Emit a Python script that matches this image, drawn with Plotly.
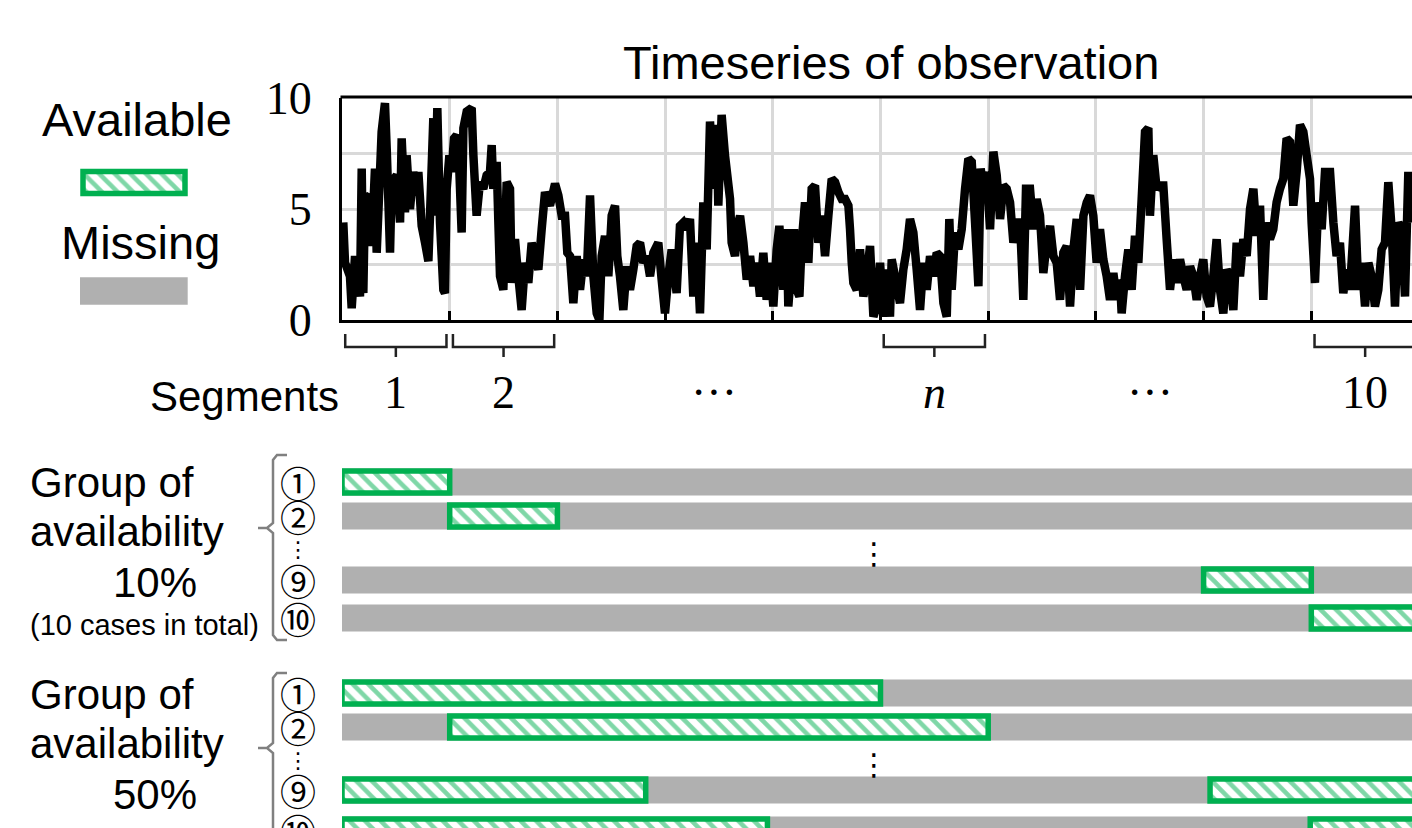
import plotly.graph_objects as go

W, H = 1412, 828

# ---------------- data ----------------
# observation time (segment width = 100 time units) and value
obs_t = [1.2, 2.8, 7.4, 9.0, 12.1, 16.7, 18.3, 19.8, 21.4, 26.0,
         27.5, 30.6, 32.2, 35.3, 36.8, 39.9, 41.5, 44.6, 46.1, 50.8,
         53.9, 55.4, 58.5, 60.0, 63.1, 66.2, 69.3, 70.9, 74.0, 77.1,
         80.2, 81.7, 84.8, 86.3, 88.5, 91.0, 94.1, 95.6, 97.2, 99.7,
         101.8, 104.0, 106.5, 109.0, 111.1, 112.7, 115.8, 120.4, 122.0, 125.0,
         128.1, 131.2, 134.3, 137.4, 139.0, 140.5, 143.6, 145.2, 146.7, 149.8,
         152.9, 156.0, 157.5, 160.6, 162.2, 166.8, 169.9, 173.0, 176.1, 179.2,
         182.3, 185.4, 188.5, 193.1, 197.8, 200.9, 204.0, 207.1, 209.2, 211.7,
         214.8, 217.9, 221.0, 224.1, 227.2, 230.3, 233.4, 236.5, 239.0, 241.1,
         244.2, 247.3, 250.4, 253.5, 255.6, 258.1, 261.2, 264.3, 267.4, 270.5,
         273.6, 276.7, 279.8, 282.9, 286.0, 289.1, 293.7, 296.8, 299.9, 303.0,
         306.1, 310.7, 313.8, 316.9, 320.0, 323.1, 326.2, 329.3, 332.4, 335.5,
         338.6, 341.7, 344.8, 347.9, 349.4, 352.5, 355.6, 360.3,
         361.8, 364.9, 368.0, 369.6, 372.7, 375.8, 378.9, 382.0, 385.0, 388.1,
         391.2, 394.3, 397.4, 400.5, 403.6, 406.1, 409.8, 412.9, 414.4, 417.5,
         419.7, 422.2, 424.7, 426.8, 429.9, 433.0, 436.1, 439.2, 442.3, 445.4,
         448.5, 451.6, 454.7, 457.8, 460.9, 464.0, 467.1, 470.2, 471.7, 473.3,
         474.8, 477.9, 481.0, 484.1, 487.2, 490.3, 493.4, 496.5, 499.6, 502.7,
         505.8, 508.8, 510.4, 513.5, 518.1, 521.2, 524.3, 527.4, 530.5, 533.6,
         536.7, 539.8, 542.9, 546.0, 549.1, 552.2, 555.3, 558.4, 561.5, 563.9,
         566.1, 569.2, 572.3, 575.4, 578.5, 581.6, 584.7, 587.8, 590.9, 593.0,
         595.5, 598.6, 601.7, 604.8, 607.9, 611.0, 614.1, 617.2, 620.3, 623.4,
         626.5, 629.6, 632.6, 635.1, 638.8, 641.9, 645.0, 648.1, 651.2, 654.3,
         657.4, 660.5, 663.6, 666.7, 669.8, 672.9, 676.0, 679.1, 682.2, 685.3,
         688.4, 691.5, 694.5, 697.6, 700.7, 703.8, 706.9, 710.0, 713.1, 716.2,
         719.3, 722.4,
         723.9, 727.0, 730.1, 733.2, 736.3, 739.4, 742.5, 745.6, 748.7, 750.2,
         753.3, 756.4, 759.5, 762.6, 765.7, 768.8, 771.9, 775.0, 778.1, 781.2,
         784.3, 787.4, 790.5, 793.6, 796.7, 799.7, 802.8, 805.9, 809.0, 812.1,
         815.2, 818.3, 821.4, 824.5, 827.6, 830.7, 833.8, 836.9, 840.0, 843.1,
         846.2, 849.3, 852.4, 855.4, 858.5, 861.6, 864.7, 867.8, 870.9, 874.0,
         877.1, 880.2, 883.3, 886.4, 889.5, 892.6, 895.7, 898.8, 900.3, 903.4,
         906.5, 909.6, 912.7, 917.4, 920.5, 923.5, 926.6, 929.7, 932.8, 935.9,
         940.6, 943.7, 946.8, 949.9, 953.0, 956.0, 959.1, 962.2, 965.3, 968.4,
         971.5, 974.6, 977.7, 980.8, 983.9, 987.0, 990.1, 993.2]

obs_v = [4.39, 2.58, 1.97, 0.53, 2.88, 1.06, 6.82, 1.21, 5.61, 5.45,
         3.33, 6.82, 3.03, 6.67, 8.48, 9.77, 7.73, 3.03, 6.21, 6.52,
         4.39, 8.18, 4.85, 7.42, 5.00, 6.67, 5.61, 6.67, 4.24, 3.48,
         2.65, 4.70, 9.09, 4.70, 9.55, 4.39, 1.36, 1.21, 5.91, 7.42,
         6.67, 8.18, 8.33, 6.67, 3.94, 8.64, 9.39, 9.55, 7.42, 4.70,
         6.21, 5.91, 6.52, 6.67, 7.88, 5.91, 7.12, 4.39, 1.97, 1.36,
         6.21, 5.91, 1.67, 3.64, 2.73, 0.45, 2.58, 1.67, 3.48, 2.88,
         2.27, 4.09, 5.76, 5.15, 6.14, 5.61, 4.70, 4.70, 3.03, 2.88,
         0.76, 2.88, 1.36, 2.73, 1.97, 5.61, 1.97, 0.30, 0.00, 2.88,
         3.79, 1.97, 4.70, 5.15, 2.88, 1.97, 0.45, 2.42, 1.36, 2.27,
         3.33, 3.48, 2.58, 2.88, 1.97, 3.03, 3.48, 1.82, 0.30, 1.97,
         3.18, 1.21, 4.24, 4.39, 4.09, 4.55, 1.06, 3.48, 0.30, 5.30,
         3.18, 8.94, 5.91, 8.79, 5.15, 9.24, 7.42, 5.45,
         3.48, 2.88, 4.39, 4.70, 3.48, 1.82, 2.88, 1.52, 2.58, 1.06,
         3.03, 0.91, 2.58, 0.61, 3.18, 4.24, 1.36, 4.09, 0.61, 2.58,
         4.09, 1.36, 1.06, 3.48, 5.30, 2.58, 5.91, 6.06, 3.48, 4.70,
         2.88, 4.70, 6.36, 6.21, 5.76, 5.45, 5.45, 5.15, 4.09, 2.58,
         1.67, 1.36, 3.18, 1.06, 1.97, 3.33, 0.15, 0.61, 2.58, 0.15,
         2.27, 0.15, 2.73, 1.97, 0.76, 2.27, 3.18, 4.55, 3.94, 2.27,
         0.45, 2.58, 1.36, 2.88, 1.97, 3.03, 2.88, 0.76, 0.15, 4.55,
         1.36, 3.94, 3.18, 4.09, 5.91, 7.27, 7.12, 4.39, 1.52, 6.82,
         5.91, 6.67, 4.09, 7.58, 6.52, 4.55, 6.06, 5.91, 5.30, 3.48,
         4.39, 4.39, 0.91, 5.91, 5.91, 4.09, 5.45, 4.70, 2.12, 3.48,
         4.24, 2.88, 2.58, 0.91, 3.03, 3.33, 0.61, 3.18, 4.55, 1.36,
         4.70, 5.30, 5.61, 4.70, 2.58, 4.09, 2.73, 1.97, 0.91, 2.12,
         0.91, 1.82,
         0.30, 1.97, 3.18, 1.36, 3.79, 2.58, 5.45, 8.48, 8.64, 4.70,
         7.42, 5.91, 6.06, 6.06, 3.64, 1.36, 2.73, 1.67, 2.73, 1.97,
         1.36, 2.42, 1.97, 0.91, 1.97, 2.73, 1.06, 0.61, 1.97, 3.64,
         1.36, 0.30, 2.27, 1.97, 0.45, 3.48, 1.97, 3.64, 2.88, 5.00,
         5.91, 3.79, 5.15, 0.91, 4.39, 3.64, 4.09, 5.30, 5.91, 6.36,
         8.18, 8.03, 5.15, 6.67, 8.79, 8.48, 7.42, 6.36, 4.39, 1.67,
         5.30, 4.09, 6.67, 6.67, 4.39, 2.88, 3.48, 1.21, 2.27, 1.36,
         5.15, 1.36, 2.58, 0.61, 2.58, 1.97, 0.61, 1.36, 3.18, 3.48,
         6.21, 4.09, 0.61, 4.39, 4.09, 1.06, 6.67, 4.39]

y_tick_vals = [0, 2.5, 5, 7.5, 10]
y_tick_text = ["0", "", "5", "", "10"]
segment_bounds = [100, 200, 300, 400, 500, 600, 700, 800, 900]
bracketed_segments = [1, 2, 6, 10]
segment_label_text = ["1", "2", "\u00b7\u00b7\u00b7", "<i>n</i>", "\u00b7\u00b7\u00b7", "10"]
segment_label_t = [50, 150, 345, 550, 750, 950]

case_labels = ["\u2460", "\u2461", "\u2468", "\u2469"]
# available spans (start, end) per case, time units
avail_10 = [[(0, 100)], [(100, 200)], [(800, 900)], [(900, 1000)]]
avail_50 = [[(0, 500)], [(100, 600)], [(0, 282), (806, 1000)], [(0, 395), (899, 1000)]]
group_names = ["10%", "50%"]

# ---------------- layout helpers ----------------
GREEN = "#00b050"
GRAY = "#b0b0b0"
SANS = "Liberation Sans, Arial, sans-serif"
SERIF = "Liberation Serif, Times New Roman, serif"

def px(x):
    return x / W

def py(y):
    return 1 - y / H

PLOT_L, PLOT_T, PLOT_B = 342, 98, 320
T_MAX = (W - PLOT_L) / 1.077

fig = go.Figure()

# time series
fig.add_trace(go.Scatter(x=obs_t, y=obs_v, mode="lines",
                         line=dict(color="black", width=8.5, simplify=False),
                         xaxis="x", yaxis="y", showlegend=False, hoverinfo="skip"))

# availability rows
row_y_10 = [482, 516, 580, 618]
row_y_50 = [693, 727, 790, 830]

pattern = dict(shape="\\", fgcolor=GREEN, bgcolor="white", size=11, solidity=0.42)

for rows_y, avail in [(row_y_10, avail_10), (row_y_50, avail_50)]:
    fig.add_trace(go.Bar(orientation="h", y=rows_y, x=[1000] * len(rows_y), base=[0] * len(rows_y),
                         width=27, marker=dict(color=GRAY, line=dict(width=0)),
                         xaxis="x2", yaxis="y2", showlegend=False, hoverinfo="skip"))
    ys, xs, bs = [], [], []
    for yy, spans in zip(rows_y, avail):
        for a, b in spans:
            ys.append(yy)
            bs.append(a)
            xs.append(b - a)
    fig.add_trace(go.Bar(orientation="h", y=ys, x=xs, base=bs, width=22,
                         marker=dict(color="white", line=dict(color=GREEN, width=5.5),
                                     pattern=pattern),
                         xaxis="x2", yaxis="y2", showlegend=False, hoverinfo="skip"))

# legend swatches (top-left)
fig.add_trace(go.Bar(orientation="h", y=[182.5], x=[102], base=[83], width=22,
                     marker=dict(color="white", line=dict(color=GREEN, width=5.5), pattern=pattern),
                     xaxis="x3", yaxis="y3", showlegend=False, hoverinfo="skip"))
fig.add_trace(go.Bar(orientation="h", y=[291], x=[107.7], base=[80], width=27.7,
                     marker=dict(color=GRAY, line=dict(width=0)),
                     xaxis="x3", yaxis="y3", showlegend=False, hoverinfo="skip"))

shapes = []
# top frame line of the time-series plot
shapes.append(dict(type="line", xref="paper", yref="paper", x0=px(PLOT_L - 1.5), x1=1,
                   y0=py(PLOT_T - 1), y1=py(PLOT_T - 1), line=dict(color="black", width=3)))

# segment brackets
for k in bracketed_segments:
    a, b = (k - 1) * 100 + 3, k * 100 - 3
    m = (a + b) / 2
    path = (f"M {a},{py(334)} L {a},{py(347)} L {b},{py(347)} L {b},{py(334)} "
            f"M {m},{py(347)} L {m},{py(357)}")
    shapes.append(dict(type="path", xref="x", yref="paper", path=path,
                       line=dict(color="#222222", width=2.5)))

# group braces
def brace(top, mid, bottom):
    pts = (f"M {px(287)},{py(top)} L {px(277)},{py(top)} L {px(273)},{py(top + 5)} "
           f"L {px(273)},{py(mid - 5)} L {px(267)},{py(mid)} L {px(258)},{py(mid)} "
           f"M {px(267)},{py(mid)} L {px(273)},{py(mid + 5)} L {px(273)},{py(bottom - 5)} "
           f"L {px(277)},{py(bottom)} L {px(287)},{py(bottom)}")
    return dict(type="path", xref="paper", yref="paper", path=pts,
                line=dict(color="#808080", width=2.5))

shapes.append(brace(455, 528, 640))
shapes.append(brace(673, 748, 880))

annotations = []

def txt(text, x, y, size, family=SANS, xanchor="center", color="black"):
    annotations.append(dict(text=text, x=px(x), y=py(y), xref="paper", yref="paper",
                            xanchor=xanchor, yanchor="middle", showarrow=False,
                            font=dict(size=size, family=family, color=color)))

txt("Timeseries of observation", 891, 62, 47)
txt("Available", 137, 120, 47)
txt("Missing", 140, 243, 47)
txt("Segments", 341, 396, 42, xanchor="right")

for lab, t in zip(segment_label_text, segment_label_t):
    annotations.append(dict(text=lab, x=t, y=py(392), xref="x", yref="paper",
                            xanchor="center", yanchor="middle", showarrow=False,
                            font=dict(size=46, family=SERIF, color="black")))

for g, (rows_y, y0) in enumerate([(row_y_10, 482), (row_y_50, 694)]):
    txt("Group of", 28, y0, 42, xanchor="left")
    txt("availability", 28, y0 + 49, 42, xanchor="left")
    txt(group_names[g], 155, y0 + 100, 42)
    for lab, yy in zip(case_labels, rows_y):
        txt(lab, 298, yy, 36, family="Noto Sans CJK JP")
    txt("\u22ee", 298, rows_y[1] + 33, 22, family="DejaVu Sans")
    txt("\u22ee", 874, rows_y[1] + 37, 30, family="DejaVu Sans")
txt("(10 cases in total)", 28, 625, 29, xanchor="left")

dom_x = [px(PLOT_L), 1]
fig.update_layout(
    width=W, height=H, margin=dict(l=0, r=0, t=0, b=0, pad=0, autoexpand=False),
    paper_bgcolor="white", plot_bgcolor="rgba(0,0,0,0)",
    barmode="overlay", showlegend=False,
    xaxis=dict(domain=dom_x, range=[0, T_MAX], tickvals=segment_bounds, showticklabels=False,
               ticks="inside", ticklen=9, tickwidth=2.5, tickcolor="black",
               showgrid=True, gridcolor="#d9d9d9", gridwidth=3, zeroline=False,
               showline=True, linecolor="black", linewidth=3, anchor="y", fixedrange=True,
               automargin=False),
    yaxis=dict(domain=[py(PLOT_B), py(PLOT_T)], range=[0, 10], tickvals=y_tick_vals,
               ticktext=y_tick_text, ticks="", ticklabelstandoff=18,
               tickfont=dict(size=46, family=SERIF, color="black"),
               showgrid=True, gridcolor="#d9d9d9", gridwidth=3, zeroline=False,
               showline=True, linecolor="black", linewidth=3, anchor="x", fixedrange=True,
               automargin=False),
    xaxis2=dict(domain=dom_x, range=[0, T_MAX], visible=False, anchor="y2", fixedrange=True,
                automargin=False),
    yaxis2=dict(domain=[0, py(440)], range=[H, 440], visible=False, anchor="x2", fixedrange=True,
                automargin=False),
    xaxis3=dict(domain=[0, px(330)], range=[0, 330], visible=False, anchor="y3", fixedrange=True,
                automargin=False),
    yaxis3=dict(domain=[py(330), py(90)], range=[330, 90], visible=False, anchor="x3", fixedrange=True,
                automargin=False),
    shapes=shapes, annotations=annotations,
)

fig.write_html("out.html")
